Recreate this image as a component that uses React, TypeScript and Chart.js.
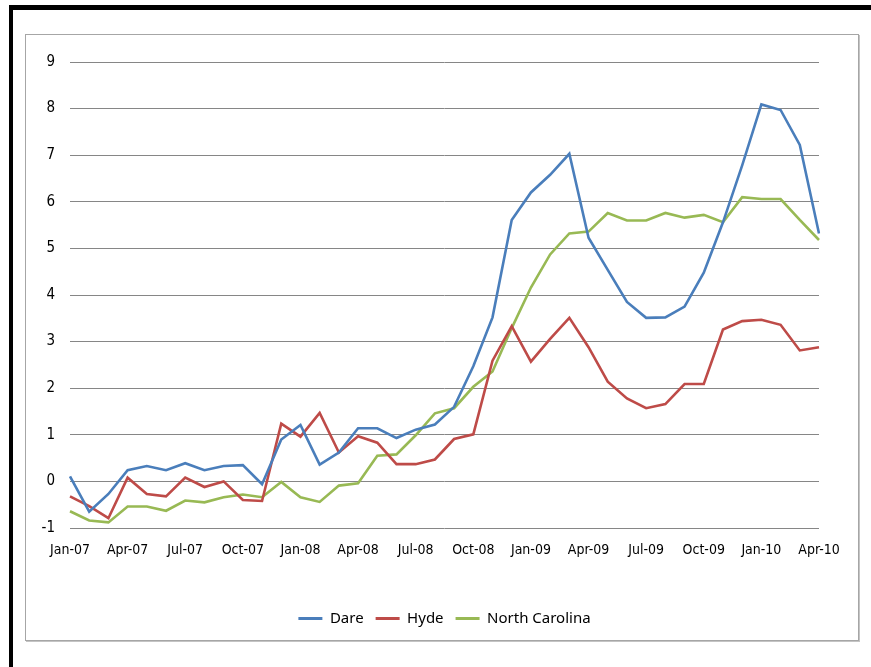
import React, { useEffect, useRef } from "react";
import { Chart, registerables } from "chart.js";

Chart.register(...registerables);

// Monthly categories, Jan-07 through Apr-10
const months: string[] = [
  "Jan-07", "Feb-07", "Mar-07", "Apr-07", "May-07", "Jun-07", "Jul-07", "Aug-07", "Sep-07", "Oct-07", "Nov-07", "Dec-07",
  "Jan-08", "Feb-08", "Mar-08", "Apr-08", "May-08", "Jun-08", "Jul-08", "Aug-08", "Sep-08", "Oct-08", "Nov-08", "Dec-08",
  "Jan-09", "Feb-09", "Mar-09", "Apr-09", "May-09", "Jun-09", "Jul-09", "Aug-09", "Sep-09", "Oct-09", "Nov-09", "Dec-09",
  "Jan-10", "Feb-10", "Mar-10", "Apr-10",
];

const dare: number[] = [
  0.11, -0.65, -0.27, 0.24, 0.33, 0.24, 0.39, 0.24, 0.33, 0.35, -0.06, 0.9,
  1.21, 0.36, 0.62, 1.14, 1.14, 0.93, 1.11, 1.22, 1.6, 2.47, 3.52, 5.61,
  6.2, 6.58, 7.03, 5.23, 4.54, 3.85, 3.51, 3.52, 3.75, 4.48, 5.56, 6.78,
  8.09, 7.97, 7.22, 5.32,
];

const hyde: number[] = [
  -0.32, -0.53, -0.79, 0.08, -0.27, -0.32, 0.08, -0.12, 0.0, -0.4, -0.42, 1.24,
  0.96, 1.47, 0.62, 0.97, 0.83, 0.37, 0.37, 0.47, 0.91, 1.01, 2.59, 3.33,
  2.57, 3.06, 3.51, 2.88, 2.14, 1.78, 1.57, 1.66, 2.09, 2.09, 3.26, 3.44,
  3.47, 3.36, 2.81, 2.88,
];

const northCarolina: number[] = [
  -0.64, -0.84, -0.88, -0.54, -0.54, -0.63, -0.41, -0.45, -0.34, -0.28, -0.34, -0.01,
  -0.34, -0.44, -0.09, -0.04, 0.55, 0.58, 0.99, 1.46, 1.57, 2.03, 2.36, 3.29,
  4.16, 4.87, 5.32, 5.36, 5.76, 5.6, 5.6, 5.76, 5.66, 5.72, 5.56, 6.1,
  6.06, 6.06, 5.61, 5.18,
];

const seriesNames: string[] = ["Dare", "Hyde", "North Carolina"];
const seriesColors: string[] = ["#4A7EBB", "#BE4B48", "#98B954"];

const yMin = -1;
const yMax = 9;

const FONT = "'Liberation Sans Narrow', 'DejaVu Sans Condensed', 'Noto Sans', sans-serif";
const LEGEND_FONT = "'Noto Sans', 'Open Sans', sans-serif";

// Keeps the bottom legend centred under the plot area rather than the whole canvas
const legendShift = {
  id: "legendShift",
  afterLayout(chart: any) {
    if (chart.legend) {
      chart.legend.left = chart.chartArea.left;
    }
  },
};

export default function App() {
  const canvasRef = useRef<HTMLCanvasElement | null>(null);

  useEffect(() => {
    const canvas = canvasRef.current;
    if (!canvas) return;
    const values = [dare, hyde, northCarolina];
    const chart = new Chart(canvas, {
      type: "line",
      data: {
        labels: months,
        datasets: seriesNames.map((name, i) => ({
          label: name,
          data: values[i],
          borderColor: seriesColors[i],
          backgroundColor: seriesColors[i],
          borderWidth: 2.6,
          pointRadius: 0,
          tension: 0,
          fill: false,
        })),
      },
      options: {
        animation: false,
        responsive: false,
        maintainAspectRatio: false,
        layout: { padding: { left: 0, right: 40, top: 28, bottom: 5 } },
        plugins: {
          tooltip: { enabled: false },
          legend: {
            position: "bottom",
            labels: {
              boxWidth: 24,
              boxHeight: 3,
              padding: 12,
              color: "#000",
              font: { family: LEGEND_FONT, size: 15 },
              // flat line swatches: filled bar only, no outline
              generateLabels: (c: any) =>
                Chart.defaults.plugins.legend.labels
                  .generateLabels(c)
                  .map((item: any) => ({ ...item, lineWidth: 0 })),
            },
          },
        },
        scales: {
          x: {
            offset: false,
            grid: { display: false, drawTicks: false },
            border: { display: false },
            ticks: {
              autoSkip: false,
              maxRotation: 0,
              minRotation: 0,
              padding: 14,
              color: "#000",
              font: { family: FONT, size: 14 },
              callback: (_v: any, idx: number) => (idx % 3 === 0 ? months[idx] : ""),
            },
            afterFit: (scale: any) => {
              scale.height = 71;
            },
          },
          y: {
            min: yMin,
            max: yMax,
            grid: { color: "#868686", lineWidth: 1, drawTicks: false },
            border: { display: false },
            ticks: {
              stepSize: 1,
              padding: 15,
              color: "#000",
              font: { family: FONT, size: 15 },
            },
            afterFit: (scale: any) => {
              scale.width = 45;
            },
          },
        },
      },
      plugins: [legendShift],
    });
    return () => chart.destroy();
  }, []);

  return (
    <div style={{ position: "fixed", left: 0, top: 0, width: 871, height: 667, background: "#fff", overflow: "hidden" }}>
      <div
        style={{
          position: "absolute",
          left: 9,
          top: 5,
          width: 880,
          height: 700,
          borderTop: "5px solid #000",
          borderLeft: "4px solid #000",
          boxSizing: "border-box",
        }}
      />
      <div
        style={{
          position: "absolute",
          left: 25,
          top: 34,
          width: 834,
          height: 607,
          border: "1px solid #a6a6a6",
          boxShadow: "1px 1px 0 #c4c4c4",
          boxSizing: "border-box",
          background: "#fff",
        }}
      >
        <canvas
          ref={canvasRef}
          width={834}
          height={607}
          style={{ position: "absolute", left: -1, top: -1, width: 834, height: 607 }}
        />
      </div>
    </div>
  );
}
